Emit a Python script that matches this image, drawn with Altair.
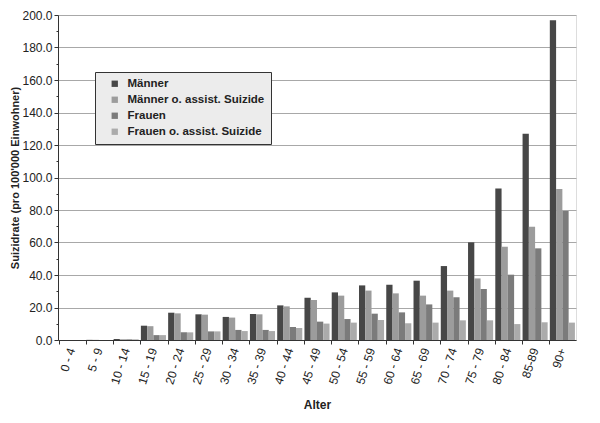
import altair as alt
import pandas as pd

ages = ["0 - 4", "5 - 9", "10 - 14", "15 - 19", "20 - 24", "25 - 29", "30 - 34",
        "35 - 39", "40 - 44", "45 - 49", "50 - 54", "55 - 59", "60 - 64", "65 - 69",
        "70 - 74", "75 - 79", "80 - 84", "85-89", "90+"]
maenner = [0.0, 0.1, 0.6, 8.8, 16.8, 15.8, 14.2, 16.0, 21.3, 26.0, 29.3, 33.6, 34.0,
           36.5, 45.5, 60.1, 93.3, 127.0, 196.8]
maenner_o = [0.0, 0.1, 0.5, 8.5, 16.4, 15.6, 13.8, 15.8, 20.7, 24.6, 27.3, 30.4, 28.7,
             27.3, 30.4, 37.9, 57.4, 69.7, 92.9]
frauen = [0.0, 0.0, 0.4, 3.0, 4.7, 5.3, 6.2, 6.2, 8.0, 11.3, 12.9, 16.2, 17.0, 21.9,
          26.3, 31.4, 40.2, 56.4, 79.4]
frauen_o = [0.0, 0.0, 0.4, 3.0, 4.7, 5.3, 5.5, 5.5, 7.4, 10.1, 10.7, 12.3, 10.3, 10.7,
            12.1, 12.1, 9.8, 10.9, 10.7]
series = ["Männer", "Männer o. assist. Suizide", "Frauen", "Frauen o. assist. Suizide"]
colors = ["#474747", "#9c9c9c", "#7b7b7b", "#ababab"]
major_ticks = [0, 20, 40, 60, 80, 100, 120, 140, 160, 180, 200]
minor_ticks = [10, 30, 50, 70, 90, 110, 130, 150, 170, 190]

rows = []
for name, vals in zip(series, [maenner, maenner_o, frauen, frauen_o]):
    for a, v in zip(ages, vals):
        rows.append({"Alter": a, "Serie": name, "Wert": v})
df = pd.DataFrame(rows)

font = "Liberation Sans"

yscale = alt.Scale(domain=[0, 200], nice=False)

bars = alt.Chart(df).mark_bar(stroke=None).encode(
    x=alt.X("Alter:N", sort=ages,
            scale=alt.Scale(paddingInner=0.08, paddingOuter=0.04),
            axis=alt.Axis(title="Alter", labelAngle=-72, bandPosition=0,
                          labelFont=font, labelFontSize=12, labelColor="#222",
                          titleFont=font, titleFontSize=12, titleFontWeight="bold",
                          titleColor="#222", titlePadding=14,
                          domainColor="#333", tickColor="#333", tickSize=4,
                          labelPadding=4, grid=False)),
    xOffset=alt.XOffset("Serie:N", sort=series, scale=alt.Scale(paddingInner=0, paddingOuter=0)),
    y=alt.Y("Wert:Q", scale=yscale,
            axis=alt.Axis(title="Suizidrate (pro 100'000 Einwohner)", values=major_ticks,
                          labelOverlap=False, orient="left",
                          format=".1f", labelFont=font, labelFontSize=12, labelColor="#222",
                          labelPadding=2,
                          titleFont=font, titleFontSize=11, titleFontWeight="bold",
                          titleColor="#222", titlePadding=1,
                          domainColor="#333", tickColor="#333", tickSize=4,
                          gridColor="#a8a8a8", gridWidth=1)),
    color=alt.Color("Serie:N", sort=series,
                    scale=alt.Scale(domain=series, range=colors),
                    legend=alt.Legend(title=None, orient="none", legendX=37, legendY=57,
                                      symbolType="square", symbolSize=40, symbolStrokeWidth=0,
                                      symbolOffset=8,
                                      labelFont=font, labelFontSize=11.5, labelFontWeight="bold",
                                      labelColor="#222", labelOffset=7, rowPadding=3,
                                      fillColor="#ececec", strokeColor="#333",
                                      padding=6, labelLimit=300)),
)

minor_df = pd.DataFrame({"v": minor_ticks})
minor = alt.Chart(minor_df).mark_point(opacity=0).encode(
    y=alt.Y("v:Q", scale=yscale,
            axis=alt.Axis(orient="left", values=minor_ticks, labels=False, grid=False,
                          domain=False, title=None, tickSize=2, tickColor="#333")),
    x=alt.value(0),
)

chart = alt.layer(bars, minor).resolve_axis(y="independent").properties(
    width=518, height=325,
    padding={"left": 50, "top": 7, "right": 16, "bottom": 75},
    autosize=alt.AutoSizeParams(type="none"),
).configure_view(stroke="#888", strokeWidth=1).configure(background="white")

chart.save("out.html", embed_options={"renderer": "svg", "actions": False})
